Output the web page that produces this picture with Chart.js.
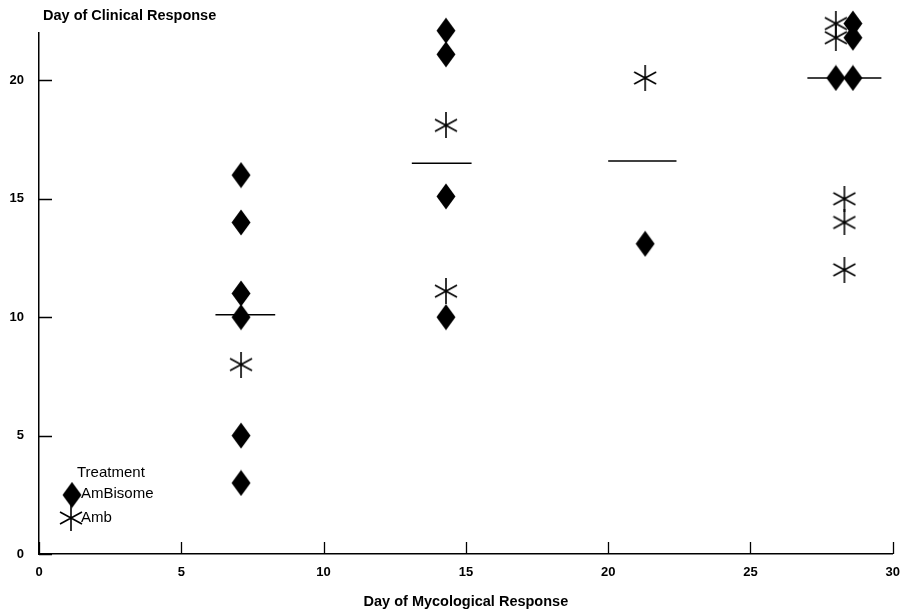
<!DOCTYPE html>
<html>
<head>
<meta charset="utf-8">
<script src="https://cdn.jsdelivr.net/npm/chart.js@4.4.0/dist/chart.umd.min.js"></script>
<style>
  html, body { margin: 0; padding: 0; background: #fff; }
  #wrap { width: 911px; height: 616px; position: relative; }
</style>
</head>
<body>
<div id="wrap"><canvas id="chart"></canvas></div>
<script>
(function () {
    // day of mycological response (x) vs day of clinical response (y)
    const ambisomeX = [7.1, 7.1, 7.1, 7.1, 7.1, 7.1, 14.3, 14.3, 14.3, 14.3, 21.3, 28.6, 28.6, 28.0, 28.6];
    const ambisomeY = [16, 14, 11, 10, 5, 3, 22.1, 21.1, 15.1, 10.0, 13.1, 22.4, 21.8, 20.1, 20.1];

    const ambX = [7.1, 14.3, 14.3, 21.3, 28.0, 28.0, 28.3, 28.3, 28.3];
    const ambY = [8, 18.1, 11.1, 20.1, 22.4, 21.8, 15, 14, 12];

    // median bars per group
    const medianFrom = [6.2, 13.1, 20.0, 27.0];
    const medianTo = [8.3, 15.2, 22.4, 29.6];
    const medianY = [10.1, 16.5, 16.6, 20.1];

    const xTicks = [0, 5, 10, 15, 20, 25, 30];
    const yTicks = [0, 5, 10, 15, 20];

    const FONT = "'Liberation Sans', Arial, Helvetica, sans-serif";

    function makeDiamond() {
        const c = document.createElement('canvas');
        c.width = 20; c.height = 27;
        const g = c.getContext('2d');
        g.fillStyle = '#000';
        g.beginPath();
        g.moveTo(10, 0.5);
        g.lineTo(19.5, 13.5);
        g.lineTo(10, 26.5);
        g.lineTo(0.5, 13.5);
        g.closePath();
        g.fill();
        return c;
    }

    function makeAsterisk() {
        const c = document.createElement('canvas');
        c.width = 24; c.height = 26;
        const g = c.getContext('2d');
        g.strokeStyle = '#000';
        g.lineWidth = 1.6;
        g.beginPath();
        g.moveTo(12, 0); g.lineTo(12, 26);
        g.moveTo(1, 7); g.lineTo(23, 19);
        g.moveTo(1, 19); g.lineTo(23, 7);
        g.stroke();
        return c;
    }

    const diamond = makeDiamond();
    const asterisk = makeAsterisk();

    const medianSets = medianY.map((y, i) => ({
        type: 'line',
        data: [{ x: medianFrom[i], y: y }, { x: medianTo[i], y: y }],
        borderColor: '#000',
        borderWidth: 1.5,
        pointRadius: 0,
        showLine: true,
        fill: false
    }));

    const extras = {
        id: 'extras',
        afterDraw(chart) {
            const ctx = chart.ctx;
            const area = chart.chartArea;
            const xs = chart.scales.x, ys = chart.scales.y;
            ctx.save();
            ctx.strokeStyle = '#000';
            ctx.lineWidth = 1.3;
            // inward tick marks
            ctx.beginPath();
            xTicks.forEach(v => {
                const px = Math.round(xs.getPixelForValue(v)) + 0.5;
                ctx.moveTo(px, area.bottom);
                ctx.lineTo(px, area.bottom - 12);
            });
            yTicks.forEach(v => {
                const py = Math.round(ys.getPixelForValue(v)) + 0.5;
                ctx.moveTo(area.left, py);
                ctx.lineTo(area.left + 13, py);
            });
            ctx.stroke();

            // y axis title, top left
            ctx.fillStyle = '#000';
            ctx.font = 'bold 14.5px ' + FONT;
            ctx.textAlign = 'left';
            ctx.textBaseline = 'middle';
            ctx.fillText('Day of Clinical Response', area.left + 4, 16);

            // legend
            const lx = area.left + 33;
            ctx.font = '15px ' + FONT;
            ctx.fillText('Treatment', lx + 5, 473);
            ctx.drawImage(diamond, lx - diamond.width / 2, 495 - diamond.height / 2);
            ctx.fillText('AmBisome', lx + 9, 494);
            ctx.drawImage(asterisk, lx - 1 - asterisk.width / 2, 518 - asterisk.height / 2);
            ctx.fillText('Amb', lx + 9, 518);
            ctx.restore();
        }
    };

    new Chart(document.getElementById('chart').getContext('2d'), {
        type: 'scatter',
        data: {
            datasets: [
                {
                    label: 'AmBisome',
                    data: ambisomeX.map((x, i) => ({ x: x, y: ambisomeY[i] })),
                    pointStyle: diamond,
                    pointRadius: 14,
                    clip: false
                },
                {
                    label: 'Amb',
                    data: ambX.map((x, i) => ({ x: x, y: ambY[i] })),
                    pointStyle: asterisk,
                    pointRadius: 14,
                    clip: false
                },
                ...medianSets
            ]
        },
        options: {
            responsive: true,
            maintainAspectRatio: false,
            animation: false,
            layout: { padding: { top: 33, right: 14, left: 0, bottom: 0 } },
            scales: {
                x: {
                    type: 'linear',
                    min: 0,
                    max: 30,
                    afterFit: s => { s.height = 62; },
                    afterBuildTicks: s => { s.ticks = xTicks.map(v => ({ value: v })); },
                    grid: { display: false, drawTicks: false },
                    border: { display: true, color: '#000', width: 1.5 },
                    ticks: {
                        color: '#000',
                        padding: 11,
                        maxRotation: 0,
                        font: { family: FONT, size: 13, weight: 'bold' }
                    },
                    title: {
                        display: true,
                        text: 'Day of Mycological Response',
                        color: '#000',
                        padding: { top: 0, bottom: 5 },
                        font: { family: FONT, size: 14.5, weight: 'bold' }
                    }
                },
                y: {
                    type: 'linear',
                    min: 0,
                    max: 22,
                    afterFit: s => { s.width = 39; },
                    afterBuildTicks: s => { s.ticks = yTicks.map(v => ({ value: v })); },
                    grid: { display: false, drawTicks: false },
                    border: { display: true, color: '#000', width: 1.5 },
                    ticks: {
                        color: '#000',
                        padding: 15,
                        font: { family: FONT, size: 13, weight: 'bold' }
                    }
                }
            },
            plugins: {
                legend: { display: false },
                tooltip: { enabled: false }
            }
        },
        plugins: [extras]
    });
})();
</script>
</body>
</html>
